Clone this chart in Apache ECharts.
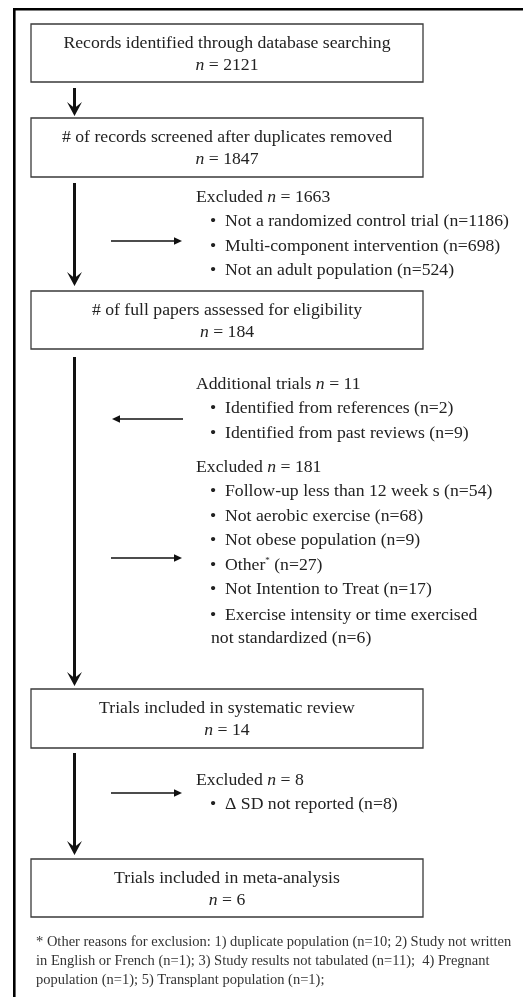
<!DOCTYPE html>
<html>
<head>
<meta charset="utf-8">
<style>
  html, body { margin: 0; padding: 0; background: #fff; }
  #chart { width: 523px; height: 997px; }
</style>
<script src="https://cdn.jsdelivr.net/npm/echarts@6/dist/echarts.min.js"></script>
</head>
<body>
<div id="chart"></div>
<script>
// flow chart data
const boxTitles = [
  'Records identified through database searching',
  '# of records screened after duplicates removed',
  '# of full papers assessed for eligibility',
  'Trials included in systematic review',
  'Trials included in meta-analysis'
];
const boxCounts = [2121, 1847, 184, 14, 6];

const screenExcludedTotal = 1663;
const screenExcludedLabels = ['Not a randomized control trial', 'Multi-component intervention', 'Not an adult population'];
const screenExcludedCounts = [1186, 698, 524];

const additionalTotal = 11;
const additionalLabels = ['Identified from references', 'Identified from past reviews'];
const additionalCounts = [2, 9];

const fullExcludedTotal = 181;
const fullExcludedLabels = ['Follow-up less than 12 week s', 'Not aerobic exercise', 'Not obese population', 'Other', 'Not Intention to Treat', 'Exercise intensity or time exercised'];
const fullExcludedCounts = [54, 68, 9, 27, 17, 6];

const metaExcludedTotal = 8;
const metaExcludedLabels = ['\u0394 SD not reported'];
const metaExcludedCounts = [8];

const footnoteLines = [
  '* Other reasons for exclusion: 1) duplicate population (n=10; 2) Study not written',
  'in English or French (n=1); 3) Study results not tabulated (n=11);  4) Pregnant',
  'population (n=1); 5) Transplant population (n=1);'
];

const FONT = '"Liberation Serif", "Times New Roman", serif';
const INK = '#222';
const FS = 17.7;

const chart = echarts.init(document.getElementById('chart'), null, { renderer: 'canvas' });

const rich = {
  i: { fontFamily: FONT, fontSize: FS, fontStyle: 'italic', fill: INK },
  r: { fontFamily: FONT, fontSize: FS, fill: INK },
  sup: { fontFamily: FONT, fontSize: 9, fill: INK, verticalAlign: 'top' }
};

function txt(x, y, text, align, size) {
  return {
    type: 'text',
    silent: true,
    style: {
      x: x, y: y, text: text,
      align: align || 'left', verticalAlign: 'middle',
      fontFamily: FONT, fontSize: size || FS, fill: INK,
      rich: rich
    }
  };
}

const els = [];

// outer frame (top + left)
els.push({ type: 'line', shape: { x1: 13, y1: 9.3, x2: 523, y2: 9.3 }, style: { stroke: '#000', lineWidth: 2.6 } });
els.push({ type: 'line', shape: { x1: 14.3, y1: 8, x2: 14.3, y2: 997 }, style: { stroke: '#000', lineWidth: 2.6 } });

// boxes
const boxLeft = 31, boxW = 392;
const boxTop = [24, 118, 291, 689, 859];
const boxBottom = [82, 177, 349, 748, 917];
boxTitles.forEach(function (t, k) {
  els.push({
    type: 'rect',
    shape: { x: boxLeft, y: boxTop[k], width: boxW, height: boxBottom[k] - boxTop[k] },
    style: { fill: '#fff', stroke: '#3a3a3a', lineWidth: 1.3 }
  });
  const cx = boxLeft + boxW / 2;
  els.push(txt(cx, boxTop[k] + 19, '{r|' + t + '}', 'center'));
  els.push(txt(cx, boxTop[k] + 41, '{i|n}{r| = ' + boxCounts[k] + '}', 'center'));
});

// main vertical arrows
const ax = 74.5;
const mainArrows = [[88, 116], [183, 286], [357, 686], [753, 855]];
mainArrows.forEach(function (a) {
  els.push({ type: 'line', shape: { x1: ax, y1: a[0], x2: ax, y2: a[1] - 6 }, style: { stroke: '#111', lineWidth: 3 } });
  els.push({
    type: 'polygon',
    shape: { points: [[ax, a[1]], [ax - 7.5, a[1] - 14], [ax, a[1] - 8], [ax + 7.5, a[1] - 14]] },
    style: { fill: '#111' }
  });
});

// side arrows
function sideArrow(y, fromX, toX) {
  const dir = toX > fromX ? 1 : -1;
  els.push({ type: 'line', shape: { x1: fromX, y1: y, x2: toX - dir * 5, y2: y }, style: { stroke: '#111', lineWidth: 1.5 } });
  els.push({
    type: 'polygon',
    shape: { points: [[toX, y], [toX - dir * 8, y - 3.8], [toX - dir * 8, y + 3.8]] },
    style: { fill: '#111' }
  });
}
sideArrow(241, 111, 182);
sideArrow(419, 183, 112);
sideArrow(558, 111, 182);
sideArrow(793, 111, 182);

// side text blocks
const hx = 196, bx = 210, tx = 225, gap = 24.5;
function block(headY, title, total, labels, counts, supIdx) {
  els.push(txt(hx, headY, '{r|' + title + ' }{i|n}{r| = ' + total + '}'));
  labels.forEach(function (l, k) {
    const y = headY + gap * (k + 1);
    els.push(txt(bx, y, '{r|\u2022}'));
    const label = k === supIdx ? '{r|' + l + '}{sup|*}{r| (n=' + counts[k] + ')}' : '{r|' + l + ' (n=' + counts[k] + ')}';
    els.push(txt(tx, y, label));
  });
}
block(197, 'Excluded', screenExcludedTotal, screenExcludedLabels, screenExcludedCounts);
block(384, 'Additional trials', additionalTotal, additionalLabels, additionalCounts);

// full-paper exclusions: last reason wraps onto a second line
const lastIdx = fullExcludedLabels.length - 1;
block(467, 'Excluded', fullExcludedTotal, fullExcludedLabels.slice(0, lastIdx), fullExcludedCounts.slice(0, lastIdx), 3);
const yLast = 467 + gap * (lastIdx + 1) + 1;
els.push(txt(bx, yLast, '{r|\u2022}'));
els.push(txt(tx, yLast, '{r|' + fullExcludedLabels[lastIdx] + '}'));
els.push(txt(211, yLast + 23, '{r|not standardized (n=' + fullExcludedCounts[lastIdx] + ')}'));

block(780, 'Excluded', metaExcludedTotal, metaExcludedLabels, metaExcludedCounts);

// footnote
footnoteLines.forEach(function (l, k) {
  els.push({
    type: 'text', silent: true,
    style: { x: 36, y: 942 + k * 19, text: l, align: 'left', verticalAlign: 'middle', fontFamily: FONT, fontSize: 14.5, fill: '#333' }
  });
});

chart.setOption({
  backgroundColor: '#fff',
  animation: false,
  graphic: { elements: els }
});
</script>
</body>
</html>
